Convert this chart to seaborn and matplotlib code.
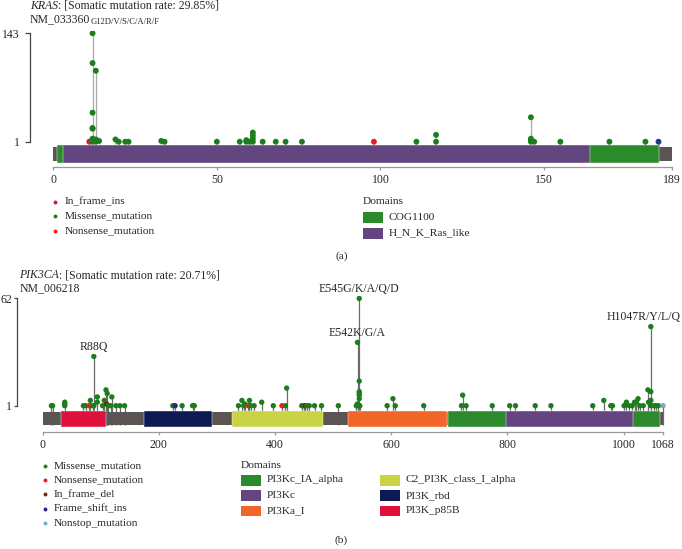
import pandas as pd
import matplotlib
matplotlib.use("Agg")
import matplotlib.pyplot as plt
from matplotlib.patches import Rectangle
import seaborn as sns

# ---- KRAS data ----
kras_pos = [11, 12, 12, 12, 12, 12, 12, 12, 13, 13, 13, 14, 19, 20, 22, 23, 33, 34, 50,
            57, 59, 59, 60, 61, 61, 61, 61, 64, 68, 71, 76, 98, 111, 117, 117,
            146, 146, 146, 146, 147, 155, 170, 181, 185]
kras_count = [1, 143, 104, 39, 19, 18, 5, 1, 94, 4, 1, 2, 4, 1, 1, 1, 2, 1, 1,
              1, 3, 1, 1, 13, 9, 5, 1, 1, 1, 1, 1, 1, 1, 10, 1,
              33, 5, 3, 1, 1, 1, 1, 1, 1]
kras_type = ["In_frame_ins"] + ["Missense_mutation"] * 30 + ["Nonsense_mutation"] + \
            ["Missense_mutation"] * 11 + ["Other"]
kras_len = 189
kras_dom_name = ["COG1100", "H_N_K_Ras_like"]
kras_dom_start = [1, 3]
kras_dom_end = [185, 164]
kras_ticks = [0, 50, 100, 150, 189]

# ---- PIK3CA data ----
pik_pos = [15, 17, 38, 38, 38, 70, 74, 80, 82, 86, 88, 88, 94, 94, 103, 106, 109, 110,
           111, 113, 117, 119, 126, 133, 141, 224, 228, 240, 258, 261,
           337, 343, 346, 348, 354, 356, 358, 364, 377, 397, 412, 418, 420,
           446, 450, 452, 455, 459, 468, 480, 509,
           540, 542, 542, 542, 545, 545, 545, 545, 545, 545, 545, 546,
           593, 603, 607, 656, 721, 723, 729, 774, 804, 814, 848, 875,
           947, 966, 978, 981, 1001, 1005, 1010, 1015, 1019, 1022, 1025, 1028, 1034,
           1042, 1043, 1047, 1047, 1047, 1047, 1052, 1056, 1060, 1068]
pik_count = [1, 1, 1, 2, 3, 1, 1, 1, 4, 1, 29, 1, 6, 3, 1, 4, 10, 2,
             8, 1, 1, 6, 1, 1, 1, 1, 1, 1, 1, 1,
             1, 4, 1, 2, 1, 4, 1, 1, 3, 1, 1, 1, 11,
             1, 1, 1, 1, 1, 1, 1, 1,
             1, 37, 2, 1, 62, 15, 9, 8, 7, 5, 1, 1,
             1, 5, 1, 1, 1, 7, 1, 1, 1, 1, 1, 1,
             1, 4, 1, 1, 1, 3, 1, 1, 3, 3, 5, 1, 1,
             10, 3, 46, 9, 4, 1, 1, 1, 1, 1]
pik_type = ["Missense_mutation"] * len(pik_pos)
for i, p in enumerate(pik_pos):
    if p in (80, 354, 412):
        pik_type[i] = "Nonsense_mutation"
    elif p in (110, 452):
        pik_type[i] = "In_frame_del"
    elif p == 228:
        pik_type[i] = "Frame_shift_ins"
    elif p == 1068:
        pik_type[i] = "Nonstop_mutation"
pik_len = 1068
pik_dom_name = ["PI3K_p85B", "PI3K_rbd", "C2_PI3K_class_I_alpha", "PI3Ka_I",
                "PI3Kc_IA_alpha", "PI3Kc"]
pik_dom_start = [32, 174, 326, 525, 698, 797]
pik_dom_end = [109, 292, 483, 696, 1062, 1016]
pik_ticks = [0, 200, 400, 600, 800, 1000, 1068]
pik_lab_text = ["R88Q", "E542K/G/A", "E545G/K/A/Q/D", "H1047R/Y/L/Q"]
pik_lab_pos = [88, 542, 545, 1047]

mut_colors = {
    "Missense_mutation": "#1d7d1d",
    "Nonsense_mutation": "#ee1c1c",
    "In_frame_ins": "#cf1f30",
    "In_frame_del": "#74261a",
    "Frame_shift_ins": "#35207e",
    "Nonstop_mutation": "#72adc2",
    "Other": "#1f3d7a",
}
dom_colors = {
    "COG1100": "#2b8a2b",
    "H_N_K_Ras_like": "#634580",
    "PI3Kc_IA_alpha": "#2b8a2b",
    "PI3Kc": "#634580",
    "PI3Ka_I": "#f26529",
    "C2_PI3K_class_I_alpha": "#c8d443",
    "PI3K_rbd": "#0b1a52",
    "PI3K_p85B": "#e0103c",
}
backbone = "#5a5552"

sns.set_theme(style="white")
plt.rcParams["font.family"] = ["Liberation Serif", "DejaVu Serif"]
plt.rcParams["font.size"] = 8.3

W, H = 682, 549
fig = plt.figure(figsize=(W / 100, H / 100), dpi=100)
lay = fig.add_axes([0, 0, 1, 1])
lay.set_xlim(0, W)
lay.set_ylim(H, 0)
lay.axis("off")


def px_axes(x0, x1, y0, y1):
    return fig.add_axes([x0 / W, 1 - y1 / H, (x1 - x0) / W, (y1 - y0) / H])


def draw_panel(ax, pos, cnt, typ, length, dnames, dstart, dend, ticks,
               xlim, ylim, bb, dom, stem_col, size, ytick_len, ytick_pad):
    df = pd.DataFrame({"pos": pos, "count": cnt, "type": typ})
    top = df.groupby("pos")["count"].max()
    ax.vlines(top.index, bb[1], top.values, color=stem_col, lw=0.9, zorder=1)
    ax.add_patch(Rectangle((0, bb[0]), length, bb[1] - bb[0], color=backbone, lw=0, zorder=2))
    for n, s, e in zip(dnames, dstart, dend):
        ax.add_patch(Rectangle((s, dom[0]), e - s, dom[1] - dom[0],
                               facecolor=dom_colors[n], edgecolor="white", lw=0.3, zorder=2))
    sns.scatterplot(data=df, x="pos", y="count", hue="type", palette=mut_colors,
                    s=size, linewidth=0, legend=False, ax=ax, zorder=3)
    ax.set_xlim(*xlim)
    ax.set_ylim(*ylim)
    ax.patch.set_visible(False)
    for sp in ["top", "right"]:
        ax.spines[sp].set_visible(False)
    ax.spines["left"].set_bounds(1, max(cnt))
    ax.spines["left"].set_color("#444444")
    ax.spines["left"].set_linewidth(0.9)
    ax.spines["bottom"].set_bounds(0, length)
    ax.spines["bottom"].set_color("#999999")
    ax.spines["bottom"].set_linewidth(0.9)
    ax.set_yticks([1, max(cnt)])
    ax.set_xticks(ticks)
    ax.tick_params(axis="y", left=True, length=ytick_len, width=0.9, color="#444444",
                   pad=ytick_pad, labelsize=8.5)
    ax.tick_params(axis="x", bottom=True, length=2.2, width=0.9, color="#999999", pad=2.5,
                   labelsize=8.5)
    ax.set_xlabel("")
    ax.set_ylabel("")


# panel (a)
ax1 = px_axes(30, 673, 31, 167.3)
draw_panel(ax1, kras_pos, kras_count, kras_type, kras_len, ["COG1100", "H_N_K_Ras_like"],
           kras_dom_start, kras_dom_end, kras_ticks, (-7.12, 189.43), (-32.5, 146),
           (-5.5, -24.5), (-3.3, -26.3), "#aaaaaa", 18, 3.6, 3.8)

# panel (b)
ax2 = px_axes(17, 673, 295.8, 432)
draw_panel(ax2, pik_pos, pik_count, pik_type, pik_len, pik_dom_name,
           pik_dom_start, pik_dom_end, pik_ticks, (-44.25, 1085.2), (-13.95, 63.5),
           (-2.4, -10.0), (-1.9, -11.1), "#6a6a6a", 15, 2.2, 1.2)
pik_top = pd.Series(pik_count).groupby(pd.Series(pik_pos)).max()
lab_shift = [0, 0, 0, -5]
for t, p, dx in zip(pik_lab_text, pik_lab_pos, lab_shift):
    ax2.annotate(t, xy=(p, pik_top[p]), xytext=(dx, 7), textcoords="offset points",
                 ha="center", va="center", fontsize=8.5)

# titles
renderer = fig.canvas.get_renderer()


def title(x, y, gene, rate, nm, sub=None):
    t = lay.text(x, y, gene, style="italic", va="center", fontsize=8.5)
    x1 = t.get_window_extent(renderer).x1
    lay.text(x1, y, ": [Somatic mutation rate: %s]" % rate, va="center", fontsize=8.5)
    t2 = lay.text(x, y + 13, nm, va="center", fontsize=8.5)
    if sub:
        x2 = t2.get_window_extent(renderer).x1
        lay.text(x2, y + 15.5, sub, va="center", fontsize=6.2)


title(30, 6, "KRAS", "29.85%", "NM_033360", "G12D/V/S/C/A/R/F")
title(19.5, 275, "PIK3CA", "20.71%", "NM_006218")


def legend(x, ys, names, colors):
    for y, n in zip(ys, names):
        lay.scatter([x], [y], s=8, color=colors[n], linewidth=0)
        lay.text(x + 9, y, n, va="center", fontsize=8.2)


def domain_legend(x, ys, names):
    for y, n in zip(ys, names):
        lay.add_patch(Rectangle((x, y - 5), 19.5, 10.5, color=dom_colors[n], lw=0))
        lay.text(x + 25.5, y, n, va="center", fontsize=8.2)


legend(55.4, [201.7, 216.2, 230.7], ["In_frame_ins", "Missense_mutation", "Nonsense_mutation"],
       mut_colors)
lay.text(363, 201, "Domains", va="center", fontsize=8.2)
domain_legend(363, [217, 233], ["COG1100", "H_N_K_Ras_like"])
lay.text(341.5, 256, "(a)", ha="center", va="center", fontsize=8.2)

legend(45, [465.7, 480, 494.3, 508.6, 523.3],
       ["Missense_mutation", "Nonsense_mutation", "In_frame_del", "Frame_shift_ins",
        "Nonstop_mutation"], mut_colors)
lay.text(241, 465.7, "Domains", va="center", fontsize=8.2)
domain_legend(241, [480, 495.3, 510.6], ["PI3Kc_IA_alpha", "PI3Kc", "PI3Ka_I"])
domain_legend(380, [480, 495.3, 510.6], ["C2_PI3K_class_I_alpha", "PI3K_rbd", "PI3K_p85B"])
lay.text(341, 540, "(b)", ha="center", va="center", fontsize=8.2)

fig.savefig("out.png", dpi=100)
